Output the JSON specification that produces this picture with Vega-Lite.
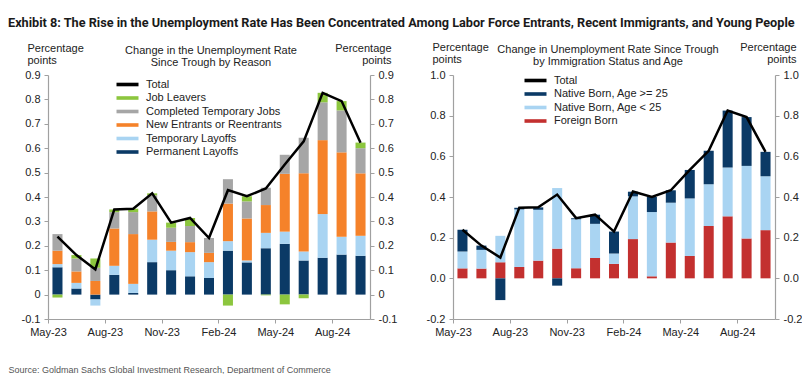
{
  "$schema": "https://vega.github.io/schema/vega-lite/v6.json",
  "padding": {"left": 8, "top": 17, "right": 0, "bottom": 0},
  "title": {
    "text": "Exhibit 8: The Rise in the Unemployment Rate Has Been Concentrated Among Labor Force Entrants, Recent Immigrants, and Young People",
    "anchor": "start",
    "font": "Roboto",
    "fontSize": 12.7,
    "fontWeight": "bold",
    "color": "#1a1a1a",
    "offset": 11
  },
  "datasets": {
    "left": [
      {"month": "May-23", "series": "Permanent Layoffs", "ord": 1, "value": 0.112},
      {"month": "May-23", "series": "Temporary Layoffs", "ord": 2, "value": 0.013},
      {"month": "May-23", "series": "New Entrants or Reentrants", "ord": 3, "value": 0.055},
      {"month": "May-23", "series": "Completed Temporary Jobs", "ord": 4, "value": 0.068},
      {"month": "May-23", "series": "Job Leavers", "ord": 5, "value": -0.012},
      {"month": "Jun-23", "series": "Permanent Layoffs", "ord": 1, "value": 0.025},
      {"month": "Jun-23", "series": "Temporary Layoffs", "ord": 2, "value": 0.023},
      {"month": "Jun-23", "series": "New Entrants or Reentrants", "ord": 3, "value": 0.047},
      {"month": "Jun-23", "series": "Completed Temporary Jobs", "ord": 4, "value": 0.053},
      {"month": "Jun-23", "series": "Job Leavers", "ord": 5, "value": 0.014},
      {"month": "Jul-23", "series": "Permanent Layoffs", "ord": 1, "value": -0.02},
      {"month": "Jul-23", "series": "Temporary Layoffs", "ord": 2, "value": -0.025},
      {"month": "Jul-23", "series": "New Entrants or Reentrants", "ord": 3, "value": 0.056},
      {"month": "Jul-23", "series": "Completed Temporary Jobs", "ord": 4, "value": 0.054},
      {"month": "Jul-23", "series": "Job Leavers", "ord": 5, "value": 0.038},
      {"month": "Aug-23", "series": "Permanent Layoffs", "ord": 1, "value": 0.081},
      {"month": "Aug-23", "series": "Temporary Layoffs", "ord": 2, "value": 0.037},
      {"month": "Aug-23", "series": "New Entrants or Reentrants", "ord": 3, "value": 0.153},
      {"month": "Aug-23", "series": "Completed Temporary Jobs", "ord": 4, "value": 0.067},
      {"month": "Aug-23", "series": "Job Leavers", "ord": 5, "value": 0.011},
      {"month": "Sep-23", "series": "Permanent Layoffs", "ord": 1, "value": 0.007},
      {"month": "Sep-23", "series": "Temporary Layoffs", "ord": 2, "value": 0.037},
      {"month": "Sep-23", "series": "New Entrants or Reentrants", "ord": 3, "value": 0.204},
      {"month": "Sep-23", "series": "Completed Temporary Jobs", "ord": 4, "value": 0.09},
      {"month": "Sep-23", "series": "Job Leavers", "ord": 5, "value": 0.014},
      {"month": "Oct-23", "series": "Permanent Layoffs", "ord": 1, "value": 0.133},
      {"month": "Oct-23", "series": "Temporary Layoffs", "ord": 2, "value": 0.092},
      {"month": "Oct-23", "series": "New Entrants or Reentrants", "ord": 3, "value": 0.116},
      {"month": "Oct-23", "series": "Completed Temporary Jobs", "ord": 4, "value": 0.066},
      {"month": "Oct-23", "series": "Job Leavers", "ord": 5, "value": 0.008},
      {"month": "Nov-23", "series": "Permanent Layoffs", "ord": 1, "value": 0.1},
      {"month": "Nov-23", "series": "Temporary Layoffs", "ord": 2, "value": 0.08},
      {"month": "Nov-23", "series": "New Entrants or Reentrants", "ord": 3, "value": 0.036},
      {"month": "Nov-23", "series": "Completed Temporary Jobs", "ord": 4, "value": 0.058},
      {"month": "Nov-23", "series": "Job Leavers", "ord": 5, "value": 0.021},
      {"month": "Dec-23", "series": "Permanent Layoffs", "ord": 1, "value": 0.075},
      {"month": "Dec-23", "series": "Temporary Layoffs", "ord": 2, "value": 0.099},
      {"month": "Dec-23", "series": "New Entrants or Reentrants", "ord": 3, "value": 0.041},
      {"month": "Dec-23", "series": "Completed Temporary Jobs", "ord": 4, "value": 0.066},
      {"month": "Dec-23", "series": "Job Leavers", "ord": 5, "value": 0.033},
      {"month": "Jan-24", "series": "Permanent Layoffs", "ord": 1, "value": 0.068},
      {"month": "Jan-24", "series": "Temporary Layoffs", "ord": 2, "value": 0.065},
      {"month": "Jan-24", "series": "New Entrants or Reentrants", "ord": 3, "value": 0.038},
      {"month": "Jan-24", "series": "Completed Temporary Jobs", "ord": 4, "value": 0.061},
      {"month": "Jan-24", "series": "Job Leavers", "ord": 5, "value": 0.0},
      {"month": "Feb-24", "series": "Permanent Layoffs", "ord": 1, "value": 0.18},
      {"month": "Feb-24", "series": "Temporary Layoffs", "ord": 2, "value": 0.039},
      {"month": "Feb-24", "series": "New Entrants or Reentrants", "ord": 3, "value": 0.154},
      {"month": "Feb-24", "series": "Completed Temporary Jobs", "ord": 4, "value": 0.1},
      {"month": "Feb-24", "series": "Job Leavers", "ord": 5, "value": -0.045},
      {"month": "Mar-24", "series": "Permanent Layoffs", "ord": 1, "value": 0.132},
      {"month": "Mar-24", "series": "Temporary Layoffs", "ord": 2, "value": 0.008},
      {"month": "Mar-24", "series": "New Entrants or Reentrants", "ord": 3, "value": 0.172},
      {"month": "Mar-24", "series": "Completed Temporary Jobs", "ord": 4, "value": 0.07},
      {"month": "Mar-24", "series": "Job Leavers", "ord": 5, "value": 0.021},
      {"month": "Apr-24", "series": "Permanent Layoffs", "ord": 1, "value": 0.19},
      {"month": "Apr-24", "series": "Temporary Layoffs", "ord": 2, "value": 0.063},
      {"month": "Apr-24", "series": "New Entrants or Reentrants", "ord": 3, "value": 0.114},
      {"month": "Apr-24", "series": "Completed Temporary Jobs", "ord": 4, "value": 0.071},
      {"month": "Apr-24", "series": "Job Leavers", "ord": 5, "value": -0.003},
      {"month": "May-24", "series": "Permanent Layoffs", "ord": 1, "value": 0.208},
      {"month": "May-24", "series": "Temporary Layoffs", "ord": 2, "value": 0.05},
      {"month": "May-24", "series": "New Entrants or Reentrants", "ord": 3, "value": 0.237},
      {"month": "May-24", "series": "Completed Temporary Jobs", "ord": 4, "value": 0.078},
      {"month": "May-24", "series": "Job Leavers", "ord": 5, "value": -0.04},
      {"month": "Jun-24", "series": "Permanent Layoffs", "ord": 1, "value": 0.14},
      {"month": "Jun-24", "series": "Temporary Layoffs", "ord": 2, "value": 0.037},
      {"month": "Jun-24", "series": "New Entrants or Reentrants", "ord": 3, "value": 0.32},
      {"month": "Jun-24", "series": "Completed Temporary Jobs", "ord": 4, "value": 0.146},
      {"month": "Jun-24", "series": "Job Leavers", "ord": 5, "value": -0.015},
      {"month": "Jul-24", "series": "Permanent Layoffs", "ord": 1, "value": 0.151},
      {"month": "Jul-24", "series": "Temporary Layoffs", "ord": 2, "value": 0.179},
      {"month": "Jul-24", "series": "New Entrants or Reentrants", "ord": 3, "value": 0.303},
      {"month": "Jul-24", "series": "Completed Temporary Jobs", "ord": 4, "value": 0.155},
      {"month": "Jul-24", "series": "Job Leavers", "ord": 5, "value": 0.039},
      {"month": "Aug-24", "series": "Permanent Layoffs", "ord": 1, "value": 0.164},
      {"month": "Aug-24", "series": "Temporary Layoffs", "ord": 2, "value": 0.073},
      {"month": "Aug-24", "series": "New Entrants or Reentrants", "ord": 3, "value": 0.346},
      {"month": "Aug-24", "series": "Completed Temporary Jobs", "ord": 4, "value": 0.172},
      {"month": "Aug-24", "series": "Job Leavers", "ord": 5, "value": 0.038},
      {"month": "Sep-24", "series": "Permanent Layoffs", "ord": 1, "value": 0.159},
      {"month": "Sep-24", "series": "Temporary Layoffs", "ord": 2, "value": 0.082},
      {"month": "Sep-24", "series": "New Entrants or Reentrants", "ord": 3, "value": 0.256},
      {"month": "Sep-24", "series": "Completed Temporary Jobs", "ord": 4, "value": 0.103},
      {"month": "Sep-24", "series": "Job Leavers", "ord": 5, "value": 0.023}
    ],
    "leftTotal": [
      {"month": "May-23", "total": 0.238},
      {"month": "Jun-23", "total": 0.162},
      {"month": "Jul-23", "total": 0.103},
      {"month": "Aug-23", "total": 0.349},
      {"month": "Sep-23", "total": 0.352},
      {"month": "Oct-23", "total": 0.415},
      {"month": "Nov-23", "total": 0.295},
      {"month": "Dec-23", "total": 0.314},
      {"month": "Jan-24", "total": 0.232},
      {"month": "Feb-24", "total": 0.428},
      {"month": "Mar-24", "total": 0.403},
      {"month": "Apr-24", "total": 0.435},
      {"month": "May-24", "total": 0.533},
      {"month": "Jun-24", "total": 0.628},
      {"month": "Jul-24", "total": 0.827},
      {"month": "Aug-24", "total": 0.793},
      {"month": "Sep-24", "total": 0.622}
    ],
    "right": [
      {"month": "May-23", "series": "Foreign Born", "ord": 1, "value": 0.049},
      {"month": "May-23", "series": "Native Born, Age < 25", "ord": 2, "value": 0.083},
      {"month": "May-23", "series": "Native Born, Age >= 25", "ord": 3, "value": 0.107},
      {"month": "Jun-23", "series": "Foreign Born", "ord": 1, "value": 0.048},
      {"month": "Jun-23", "series": "Native Born, Age < 25", "ord": 2, "value": 0.092},
      {"month": "Jun-23", "series": "Native Born, Age >= 25", "ord": 3, "value": 0.021},
      {"month": "Jul-23", "series": "Foreign Born", "ord": 1, "value": 0.079},
      {"month": "Jul-23", "series": "Native Born, Age < 25", "ord": 2, "value": 0.13},
      {"month": "Jul-23", "series": "Native Born, Age >= 25", "ord": 3, "value": -0.107},
      {"month": "Aug-23", "series": "Foreign Born", "ord": 1, "value": 0.056},
      {"month": "Aug-23", "series": "Native Born, Age < 25", "ord": 2, "value": 0.283},
      {"month": "Aug-23", "series": "Native Born, Age >= 25", "ord": 3, "value": 0.008},
      {"month": "Sep-23", "series": "Foreign Born", "ord": 1, "value": 0.087},
      {"month": "Sep-23", "series": "Native Born, Age < 25", "ord": 2, "value": 0.25},
      {"month": "Sep-23", "series": "Native Born, Age >= 25", "ord": 3, "value": 0.012},
      {"month": "Oct-23", "series": "Foreign Born", "ord": 1, "value": 0.146},
      {"month": "Oct-23", "series": "Native Born, Age < 25", "ord": 2, "value": 0.298},
      {"month": "Oct-23", "series": "Native Born, Age >= 25", "ord": 3, "value": -0.036},
      {"month": "Nov-23", "series": "Foreign Born", "ord": 1, "value": 0.049},
      {"month": "Nov-23", "series": "Native Born, Age < 25", "ord": 2, "value": 0.242},
      {"month": "Nov-23", "series": "Native Born, Age >= 25", "ord": 3, "value": 0.005},
      {"month": "Dec-23", "series": "Foreign Born", "ord": 1, "value": 0.1},
      {"month": "Dec-23", "series": "Native Born, Age < 25", "ord": 2, "value": 0.168},
      {"month": "Dec-23", "series": "Native Born, Age >= 25", "ord": 3, "value": 0.045},
      {"month": "Jan-24", "series": "Foreign Born", "ord": 1, "value": 0.071},
      {"month": "Jan-24", "series": "Native Born, Age < 25", "ord": 2, "value": 0.051},
      {"month": "Jan-24", "series": "Native Born, Age >= 25", "ord": 3, "value": 0.108},
      {"month": "Feb-24", "series": "Foreign Born", "ord": 1, "value": 0.193},
      {"month": "Feb-24", "series": "Native Born, Age < 25", "ord": 2, "value": 0.21},
      {"month": "Feb-24", "series": "Native Born, Age >= 25", "ord": 3, "value": 0.023},
      {"month": "Mar-24", "series": "Foreign Born", "ord": 1, "value": 0.01},
      {"month": "Mar-24", "series": "Native Born, Age < 25", "ord": 2, "value": 0.316},
      {"month": "Mar-24", "series": "Native Born, Age >= 25", "ord": 3, "value": 0.074},
      {"month": "Apr-24", "series": "Foreign Born", "ord": 1, "value": 0.176},
      {"month": "Apr-24", "series": "Native Born, Age < 25", "ord": 2, "value": 0.196},
      {"month": "Apr-24", "series": "Native Born, Age >= 25", "ord": 3, "value": 0.061},
      {"month": "May-24", "series": "Foreign Born", "ord": 1, "value": 0.11},
      {"month": "May-24", "series": "Native Born, Age < 25", "ord": 2, "value": 0.283},
      {"month": "May-24", "series": "Native Born, Age >= 25", "ord": 3, "value": 0.14},
      {"month": "Jun-24", "series": "Foreign Born", "ord": 1, "value": 0.257},
      {"month": "Jun-24", "series": "Native Born, Age < 25", "ord": 2, "value": 0.206},
      {"month": "Jun-24", "series": "Native Born, Age >= 25", "ord": 3, "value": 0.164},
      {"month": "Jul-24", "series": "Foreign Born", "ord": 1, "value": 0.305},
      {"month": "Jul-24", "series": "Native Born, Age < 25", "ord": 2, "value": 0.24},
      {"month": "Jul-24", "series": "Native Born, Age >= 25", "ord": 3, "value": 0.28},
      {"month": "Aug-24", "series": "Foreign Born", "ord": 1, "value": 0.196},
      {"month": "Aug-24", "series": "Native Born, Age < 25", "ord": 2, "value": 0.357},
      {"month": "Aug-24", "series": "Native Born, Age >= 25", "ord": 3, "value": 0.24},
      {"month": "Sep-24", "series": "Foreign Born", "ord": 1, "value": 0.237},
      {"month": "Sep-24", "series": "Native Born, Age < 25", "ord": 2, "value": 0.265},
      {"month": "Sep-24", "series": "Native Born, Age >= 25", "ord": 3, "value": 0.12}
    ],
    "rightTotal": [
      {"month": "May-23", "total": 0.239},
      {"month": "Jun-23", "total": 0.161},
      {"month": "Jul-23", "total": 0.102},
      {"month": "Aug-23", "total": 0.347},
      {"month": "Sep-23", "total": 0.349},
      {"month": "Oct-23", "total": 0.412},
      {"month": "Nov-23", "total": 0.296},
      {"month": "Dec-23", "total": 0.313},
      {"month": "Jan-24", "total": 0.23},
      {"month": "Feb-24", "total": 0.427},
      {"month": "Mar-24", "total": 0.4},
      {"month": "Apr-24", "total": 0.433},
      {"month": "May-24", "total": 0.533},
      {"month": "Jun-24", "total": 0.627},
      {"month": "Jul-24", "total": 0.825},
      {"month": "Aug-24", "total": 0.793},
      {"month": "Sep-24", "total": 0.622}
    ]
  },
  "hconcat": [
    {
      "width": 322,
      "height": 244,
      "title": {
        "text": ["Change in the Unemployment Rate", "Since Trough by Reason"],
        "anchor": "middle",
        "offset": -26,
        "dx": 2
      },
      "layer": [
        {
          "mark": {"type": "rule", "color": "#b0b0b0", "strokeWidth": 1.2},
          "encoding": {"y": {"datum": 0, "type": "quantitative", "scale": {"domain": [-0.1, 0.9], "nice": false}, "axis": null}}
        },
        {
          "data": {"name": "left"},
          "mark": {"type": "bar"},
          "encoding": {
            "x": {
              "field": "month", "type": "ordinal",
              "scale": {"domain": ["May-23","Jun-23","Jul-23","Aug-23","Sep-23","Oct-23","Nov-23","Dec-23","Jan-24","Feb-24","Mar-24","Apr-24","May-24","Jun-24","Jul-24","Aug-24","Sep-24"], "paddingInner": 0.47, "paddingOuter": 0.235},
              "axis": {
                "values": ["May-23","Aug-23","Nov-23","Feb-24","May-24","Aug-24"],
                "labelAngle": 0, "tickOffset": -9.47, "tickSize": 4, "labelPadding": 3,
                "title": "Source: Goldman Sachs Global Investment Research, Department of Commerce",
                "titleFont": "Liberation Sans", "titleFontSize": 9, "titleColor": "#555555",
                "titleAlign": "left", "titleBaseline": "middle", "titleX": -40, "titleY": 50
              }
            },
            "y": {
              "field": "value", "type": "quantitative", "stack": "zero",
              "scale": {"domain": [-0.1, 0.9], "nice": false},
              "axis": {
                "orient": "left",
                "values": [-0.1, 0, 0.1, 0.2, 0.3, 0.4, 0.5, 0.6, 0.7, 0.8, 0.9],
                "labelExpr": "datum.value == 0 ? '0' : replace(format(datum.value, '.1f'), '\u2212', '-')",
                "title": ["Percentage", "points"],
                "titleAngle": 0, "titleAlign": "left", "titleBaseline": "top",
                "titleX": -21, "titleY": -33, "titleLineHeight": 12
              }
            },
            "color": {
              "field": "series", "type": "nominal",
              "scale": {
                "domain": ["Total", "Job Leavers", "Completed Temporary Jobs", "New Entrants or Reentrants", "Temporary Layoffs", "Permanent Layoffs"],
                "range": ["#000000", "#8cc63e", "#a6a6a6", "#f5822a", "#a9d4f2", "#0b3a66"]
              },
              "legend": {"orient": "none", "legendX": 74, "legendY": 4, "title": null}
            },
            "order": {"field": "ord", "type": "quantitative"}
          }
        },
        {
          "data": {"name": "leftTotal"},
          "mark": {"type": "line", "color": "#000000", "strokeWidth": 2.5},
          "encoding": {
            "x": {"field": "month", "type": "ordinal"},
            "y": {
              "field": "total", "type": "quantitative",
              "scale": {"domain": [-0.1, 0.9], "nice": false},
              "axis": {
                "orient": "right",
                "values": [-0.1, 0, 0.1, 0.2, 0.3, 0.4, 0.5, 0.6, 0.7, 0.8, 0.9],
                "labelExpr": "datum.value == 0 ? '0' : replace(format(datum.value, '.1f'), '\u2212', '-')",
                "title": ["Percentage", "points"],
                "titleAngle": 0, "titleAlign": "right", "titleBaseline": "top",
                "titleX": 21, "titleY": -33, "titleLineHeight": 12
              }
            }
          }
        }
      ],
      "resolve": {"scale": {"y": "independent"}}
    },
    {
      "width": 322,
      "height": 244,
      "title": {
        "text": ["Change in Unemployment Rate Since Trough", "by Immigration Status and Age"],
        "anchor": "middle",
        "offset": -26,
        "dx": -6
      },
      "layer": [
        {
          "mark": {"type": "rule", "color": "#808080", "strokeWidth": 1.2},
          "encoding": {"y": {"datum": 0, "type": "quantitative", "scale": {"domain": [-0.2, 1.0], "nice": false}, "axis": null}}
        },
        {
          "data": {"name": "right"},
          "mark": {"type": "bar"},
          "encoding": {
            "x": {
              "field": "month", "type": "ordinal",
              "scale": {"domain": ["May-23","Jun-23","Jul-23","Aug-23","Sep-23","Oct-23","Nov-23","Dec-23","Jan-24","Feb-24","Mar-24","Apr-24","May-24","Jun-24","Jul-24","Aug-24","Sep-24"], "paddingInner": 0.47, "paddingOuter": 0.235},
              "axis": {
                "values": ["May-23","Aug-23","Nov-23","Feb-24","May-24","Aug-24"],
                "labelAngle": 0, "tickOffset": -9.47, "tickSize": 4, "labelPadding": 3, "title": null
              }
            },
            "y": {
              "field": "value", "type": "quantitative", "stack": "zero",
              "scale": {"domain": [-0.2, 1.0], "nice": false},
              "axis": {
                "orient": "left",
                "values": [-0.2, 0, 0.2, 0.4, 0.6, 0.8, 1.0],
                "labelExpr": "replace(format(datum.value, '.1f'), '\u2212', '-')",
                "title": ["Percentage", "points"],
                "titleAngle": 0, "titleAlign": "left", "titleBaseline": "top",
                "titleX": -21, "titleY": -34, "titleLineHeight": 12
              }
            },
            "color": {
              "field": "series", "type": "nominal",
              "scale": {
                "domain": ["Total", "Native Born, Age >= 25", "Native Born, Age < 25", "Foreign Born"],
                "range": ["#000000", "#0b3a66", "#a9d4f2", "#c3302f"]
              },
              "legend": {"orient": "none", "legendX": 77, "legendY": 0, "title": null}
            },
            "order": {"field": "ord", "type": "quantitative"}
          }
        },
        {
          "data": {"name": "rightTotal"},
          "mark": {"type": "line", "color": "#000000", "strokeWidth": 2.5},
          "encoding": {
            "x": {"field": "month", "type": "ordinal"},
            "y": {
              "field": "total", "type": "quantitative",
              "scale": {"domain": [-0.2, 1.0], "nice": false},
              "axis": {
                "orient": "right",
                "values": [-0.2, 0, 0.2, 0.4, 0.6, 0.8, 1.0],
                "labelExpr": "replace(format(datum.value, '.1f'), '\u2212', '-')",
                "title": ["Percentage", "points"],
                "titleAngle": 0, "titleAlign": "right", "titleBaseline": "top",
                "titleX": 21, "titleY": -34, "titleLineHeight": 12
              }
            }
          }
        }
      ],
      "resolve": {"scale": {"y": "independent"}}
    }
  ],
  "resolve": {"scale": {"color": "independent"}, "legend": {"color": "independent"}},
  "spacing": 29,
  "config": {
    "view": {"stroke": null},
    "font": "Liberation Sans",
    "title": {"font": "Liberation Sans", "fontSize": 11, "fontWeight": "normal", "color": "#222222", "lineHeight": 12},
    "axis": {
      "labelFont": "Liberation Sans", "labelFontSize": 11, "labelColor": "#222222",
      "domainColor": "#a0a0a0", "tickColor": "#a0a0a0", "domainWidth": 1.2, "grid": false,
      "tickSize": 4, "labelPadding": 4,
      "titleFont": "Liberation Sans", "titleFontSize": 11, "titleFontWeight": "normal", "titleColor": "#222222"
    },
    "legend": {
      "labelFont": "Liberation Sans", "labelFontSize": 11, "labelColor": "#222222",
      "symbolType": "M-5.5,-0.9H5.5V0.9H-5.5Z", "symbolSize": 16, "symbolStrokeWidth": 0,
      "labelOffset": 13, "rowPadding": 1.5, "padding": 0, "symbolOpacity": 1
    }
  }
}
